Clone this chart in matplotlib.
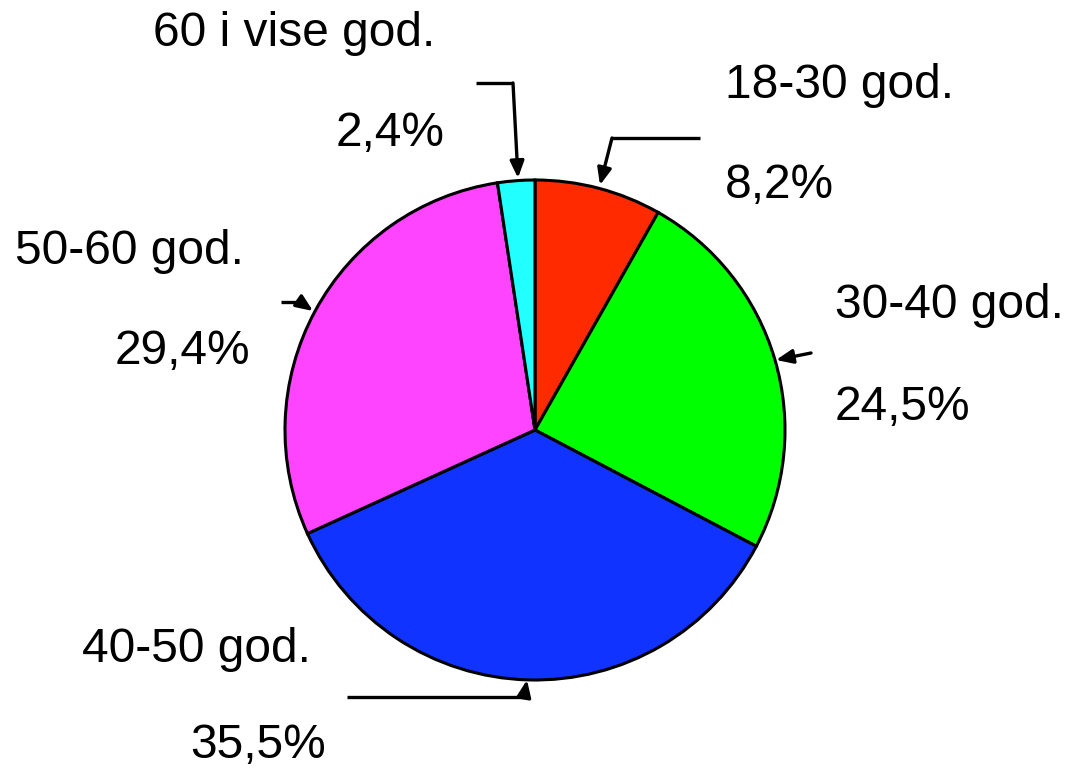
import matplotlib.pyplot as plt

# age groups and shares (%)
labels = ['18-30 god.', '30-40 god.', '40-50 god.', '50-60 god.', '60 i vise god.']
shares = [8.2, 24.5, 35.5, 29.4, 2.4]
colors = ['#ff2a00', '#00ff00', '#1133ff', '#ff44ff', '#22ffff']

W, H = 1077, 773

def py(y):
    # pixel row -> data y
    return H - y

fig = plt.figure(figsize=(W / 100, H / 100), dpi=100)
ax = fig.add_axes([0, 0, 1, 1])

ax.pie(shares, colors=colors, startangle=90, counterclock=False,
       center=(535, py(430)), radius=250, frame=True,
       wedgeprops=dict(edgecolor='black', linewidth=2.2))
ax.set_xlim(0, W)
ax.set_ylim(0, H)
ax.set_aspect('equal')
ax.axis('off')

fs = 34.5
pct = [('%.1f%%' % v).replace('.', ',') for v in shares]

#text placement (label, value) per slice
txt = [
    ((725, 86, 'left'), (725, 185, 'left')),
    ((835, 305, 'left'), (835, 408, 'left')),
    ((82, 650, 'left'), (190, 745, 'left')),
    ((15, 251, 'left'), (250, 352, 'right')),
    ((153, 33, 'left'), (445, 133, 'right')),
]
for i in range(len(labels)):
    (lx, ly, lha), (vx, vy, vha) = txt[i]
    ax.text(lx, py(ly), labels[i], fontsize=fs, ha=lha, va='center',
            family='Liberation Sans')
    ax.text(vx, py(vy), pct[i], fontsize=fs, ha=vha, va='center',
            family='Liberation Sans')

# leader lines: polyline then arrow to the tip
leaders = [
    [(700, 138), (612, 138), (600, 185)],
    [(811, 353), (776, 360)],
    [(347, 697), (524, 697), (527, 680)],
    [(281, 302), (300, 302), (313, 311)],
    [(476, 83), (513, 83), (518, 178)],
]
for pts in leaders:
    xs = [p[0] for p in pts[:-1]]
    ys = [py(p[1]) for p in pts[:-1]]
    if len(xs) > 1:
        ax.plot(xs, ys, color='black', lw=2.4, solid_capstyle='butt')
    ax.annotate('', xy=(pts[-1][0], py(pts[-1][1])),
                xytext=(pts[-2][0], py(pts[-2][1])),
                arrowprops=dict(arrowstyle='-|>,head_length=1.0,head_width=0.42',
                                color='black', lw=2.4, shrinkA=0, shrinkB=0))

fig.savefig('out.png', dpi=100)
